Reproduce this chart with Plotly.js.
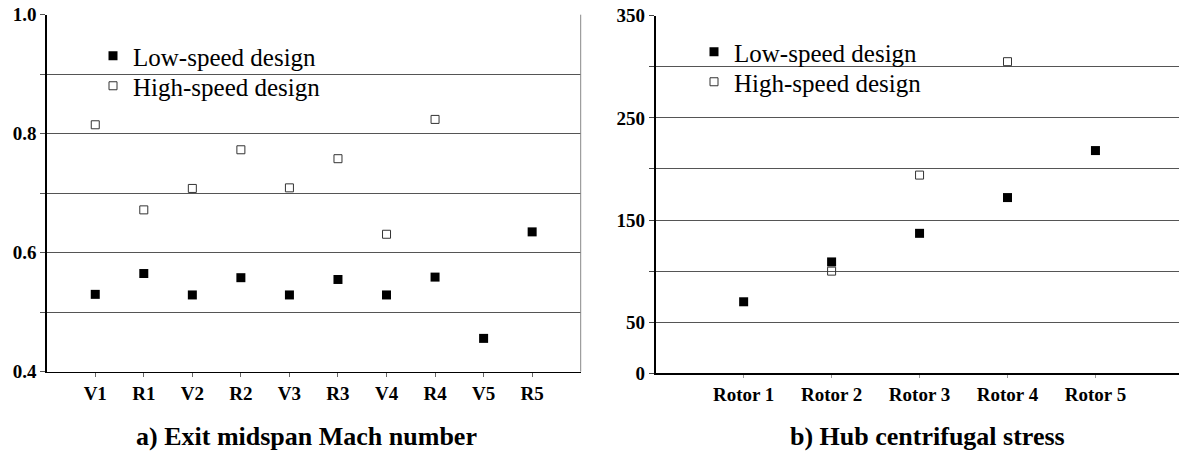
<!DOCTYPE html>
<html>
<head>
<meta charset="utf-8">
<script src="https://cdn.plot.ly/plotly-3.0.1.min.js"></script>
<style>html,body{margin:0;padding:0;background:#fff;}#chart{width:1179px;height:452px;}</style>
</head>
<body>
<div id="chart"></div>
<script>
// Chart a) Exit midspan Mach number
const stagesA = ['V1','R1','V2','R2','V3','R3','V4','R4','V5','R5'];
const lowSpeedMach = [0.530,0.565,0.529,0.558,0.529,0.555,0.529,0.559,0.456,0.635];
const highSpeedMach = [0.815,0.672,0.708,0.773,0.709,0.758,0.631,0.824,null,null];
const ticksA = [0.4,0.6,0.8,1.0];
const tickTextA = ['0.4','0.6','0.8','1.0'];

// Chart b) Hub centrifugal stress
const rotorsB = ['Rotor 1','Rotor 2','Rotor 3','Rotor 4','Rotor 5'];
const lowSpeedStress = [70,109,137,172,218];
const highSpeedStress = [null,100,194,305,null];
const ticksB = [0,50,150,250,350];
const tickTextB = ['0','50','150','250','350'];

const seriesNames = ['Low-speed design','High-speed design'];
const titles = ['a) Exit midspan Mach number','b) Hub centrifugal stress'];

const FONT = 'Liberation Serif';
const W = 1179, H = 452;

const lowMarker = {symbol:'square', size:9, color:'#000', line:{width:0}};
const highMarker = {symbol:'square-open', size:8, color:'#333', line:{width:1}};

const traces = [
  {x:stagesA, y:lowSpeedMach, name:seriesNames[0], type:'scatter', mode:'markers', marker:lowMarker, xaxis:'x', yaxis:'y', legend:'legend', cliponaxis:false},
  {x:stagesA, y:highSpeedMach, name:seriesNames[1], type:'scatter', mode:'markers', marker:highMarker, xaxis:'x', yaxis:'y', legend:'legend2', cliponaxis:false},
  {x:rotorsB, y:lowSpeedStress, name:seriesNames[0], type:'scatter', mode:'markers', marker:lowMarker, xaxis:'x2', yaxis:'y2', legend:'legend3', cliponaxis:false},
  {x:rotorsB, y:highSpeedStress, name:seriesNames[1], type:'scatter', mode:'markers', marker:highMarker, xaxis:'x2', yaxis:'y2', legend:'legend4', cliponaxis:false}
];

const gridCol = '#555';
const tickFont = {family:FONT, size:19, color:'#000', weight:'bold'};

function legendAt(xpx, ypx) {
  return {
    x:xpx/W, y:1-ypx/H, xanchor:'left', yanchor:'middle',
    bgcolor:'rgba(0,0,0,0)', borderwidth:0,
    font:{family:FONT, size:25, color:'#000'},
    itemwidth:30, tracegroupgap:0
  };
}

const layout = {
  width:W, height:H,
  margin:{l:0,r:0,t:0,b:0},
  paper_bgcolor:'#fff', plot_bgcolor:'#fff',
  font:{family:FONT, color:'#000'},
  xaxis:{
    domain:[46.7/W, 580.7/W], type:'category', range:[-1,10],
    showline:true, linecolor:'#000', linewidth:1.5,
    ticks:'outside', ticklen:4, tickcolor:'#666', tickwidth:1,
    showgrid:false, zeroline:false, fixedrange:true,
    tickfont:tickFont, anchor:'y'
  },
  yaxis:{
    domain:[1-371.7/H, 1-14.7/H], range:[0.4,1.0],
    tickvals:ticksA, ticktext:tickTextA,
    showline:true, linecolor:'#000', linewidth:1.5,
    ticks:'outside', ticklen:5, tickcolor:'#555',
    showgrid:true, gridcolor:gridCol, gridwidth:1,
    minor:{dtick:0.1, showgrid:true, gridcolor:gridCol, gridwidth:1, ticks:'outside', ticklen:5, tickcolor:'#555'},
    zeroline:false, fixedrange:true,
    tickfont:tickFont, anchor:'x'
  },
  xaxis2:{
    domain:[655.7/W, 1], type:'category', range:[-1,4.95],
    showline:true, linecolor:'#000', linewidth:2,
    ticks:'outside', ticklen:3, tickcolor:'#999', tickwidth:1,
    showgrid:false, zeroline:false, fixedrange:true,
    tickfont:tickFont, anchor:'y2'
  },
  yaxis2:{
    domain:[1-373.3/H, 1-15.7/H], range:[0,350],
    tickvals:ticksB, ticktext:tickTextB,
    showline:true, linecolor:'#000', linewidth:2,
    ticks:'outside', ticklen:5, tickcolor:'#444',
    showgrid:true, gridcolor:gridCol, gridwidth:1,
    minor:{dtick:50, showgrid:true, gridcolor:gridCol, gridwidth:1, ticks:'outside', ticklen:5, tickcolor:'#444'},
    zeroline:false, fixedrange:true,
    tickfont:tickFont, anchor:'x2'
  },
  legend:legendAt(93, 56),
  legend2:legendAt(93, 86),
  legend3:legendAt(694, 52),
  legend4:legendAt(694, 82),
  showlegend:true,
  shapes:[
    {type:'line', xref:'x domain', yref:'y domain', x0:1, x1:1, y0:0, y1:1, line:{color:'#888', width:1}},
    {type:'rect', layer:'between', xref:'paper', yref:'paper', x0:58/W, x1:357/W, y0:1-105/H, y1:1-35/H, fillcolor:'#fff', line:{width:0}},
    {type:'rect', layer:'between', xref:'paper', yref:'paper', x0:662/W, x1:961/W, y0:1-100/H, y1:1-31/H, fillcolor:'#fff', line:{width:0}}
  ],
  annotations:[
    {text:titles[0], xref:'paper', yref:'paper', x:306/W, y:0, xanchor:'center', yanchor:'bottom', showarrow:false, borderpad:0, font:{family:FONT, size:26, color:'#000', weight:'bold'}},
    {text:titles[1], xref:'paper', yref:'paper', x:927/W, y:0, xanchor:'center', yanchor:'bottom', showarrow:false, borderpad:0, font:{family:FONT, size:26, color:'#000', weight:'bold'}}
  ]
};

Plotly.newPlot('chart', traces, layout, {staticPlot:true, displayModeBar:false});
</script>
</body>
</html>
